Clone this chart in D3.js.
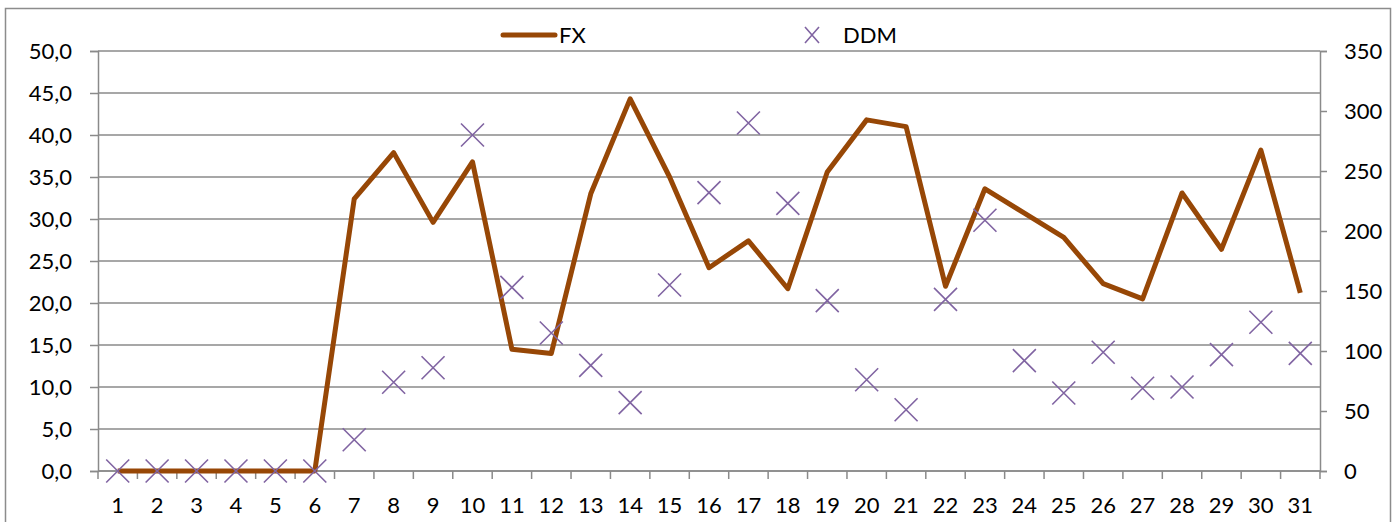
<!DOCTYPE html>
<html>
<head>
<meta charset="utf-8">
<script src="https://cdn.jsdelivr.net/npm/d3@7"></script>
<style>
  body { margin: 0; background: #fff; }
  text { font-family: Lato, "Open Sans", sans-serif; fill: #000; }
</style>
</head>
<body>
<div id="chart"></div>
<script>
const days = d3.range(1, 32).map(String);
const fxValues = [0, 0, 0, 0, 0, 0, 32.4, 37.9, 29.6, 36.8, 14.5, 14.0, 33.0, 44.3, 35.0,
  24.2, 27.4, 21.7, 35.6, 41.8, 41.0, 22.0, 33.6, 30.7, 27.8, 22.3, 20.5, 33.1, 26.4, 38.2, 21.2];
const ddmValues = [0, 0, 0, 0, 0, 0, 26, 74, 86, 280, 153, 115, 88, 57, 155,
  232, 290, 223, 142, 76, 51, 143, 209, 92, 65, 99, 69, 70, 97, 124, 98];
const leftTicks = d3.range(0, 50.1, 5);
const rightTicks = d3.range(0, 351, 50);

const canvasWidth = 1397;
const canvasHeight = 522;
const margins = { top: 51, right: 77, bottom: 51, left: 98 };
const width = canvasWidth - margins.left - margins.right;
const height = canvasHeight - margins.top - margins.bottom;
const fontSize = 22;

const svg = d3.select('#chart')
  .append('svg')
  .attr('width', canvasWidth)
  .attr('height', canvasHeight);

// outer chart border
svg.append('rect')
  .attr('x', 5.5)
  .attr('y', 8.5)
  .attr('width', 1385)
  .attr('height', 530)
  .attr('fill', 'none')
  .attr('stroke', '#8c8c8c')
  .attr('stroke-width', 1.5);

const chart = svg.append('g')
  .attr('transform', `translate(${margins.left}, ${margins.top})`);

const scaleX = d3.scaleBand().domain(days).range([0, width]);
const scaleY = d3.scaleLinear().domain([0, 50]).range([height, 0]);
const scaleY2 = d3.scaleLinear().domain([0, 350]).range([height, 0]);

// gridlines
chart.append('g')
  .selectAll('line')
  .data(leftTicks)
  .enter()
  .append('line')
    .attr('x1', 0)
    .attr('x2', width)
    .attr('y1', d => scaleY(d))
    .attr('y2', d => scaleY(d))
    .attr('stroke', '#8a8a8a')
    .attr('stroke-width', 1.5);

// left axis
const axisLeft = d3.axisLeft(scaleY)
  .tickValues(leftTicks)
  .tickFormat(d => d3.format('.1f')(d).replace('.', ','))
  .tickSize(8)
  .tickPadding(18);
chart.append('g').call(axisLeft);

// right axis
const axisRight = d3.axisRight(scaleY2)
  .tickValues(rightTicks)
  .tickSize(7)
  .tickPadding(17);
chart.append('g')
  .attr('transform', `translate(${width}, 0)`)
  .call(axisRight);

// bottom axis with ticks between categories
const axisX = chart.append('g')
  .attr('transform', `translate(0, ${height})`);
axisX.append('line')
  .attr('x1', 0).attr('x2', width)
  .attr('stroke', '#8a8a8a').attr('stroke-width', 1.5);
axisX.selectAll('.tick-mark')
  .data(d3.range(0, days.length + 1))
  .enter()
  .append('line')
    .attr('x1', i => i * scaleX.step())
    .attr('x2', i => i * scaleX.step())
    .attr('y1', 0)
    .attr('y2', 8)
    .attr('stroke', '#8a8a8a')
    .attr('stroke-width', 1.5);
axisX.selectAll('.lbl')
  .data(days)
  .enter()
  .append('text')
    .attr('x', d => scaleX(d) + scaleX.bandwidth() / 2)
    .attr('y', 42)
    .attr('text-anchor', 'middle')
    .attr('font-size', fontSize)
    .text(d => d);

chart.selectAll('.domain, .tick line')
  .attr('stroke', '#8a8a8a')
  .attr('stroke-width', 1.5);
chart.selectAll('.tick text')
  .attr('font-size', fontSize);

// FX line
const line = d3.line()
  .x((d, i) => scaleX(days[i]) + scaleX.bandwidth() / 2)
  .y(d => scaleY(d));
chart.append('path')
  .datum(fxValues)
  .attr('d', line)
  .attr('fill', 'none')
  .attr('stroke', '#974706')
  .attr('stroke-width', 5)
  .attr('stroke-linejoin', 'round');

// DDM markers
const cross = 'M-11.5,-11.5L11.5,11.5M-11.5,11.5L11.5,-11.5';
chart.append('g')
  .selectAll('path')
  .data(ddmValues)
  .enter()
  .append('path')
    .attr('transform', (d, i) => `translate(${scaleX(days[i]) + scaleX.bandwidth() / 2}, ${scaleY2(d)})`)
    .attr('d', cross)
    .attr('fill', 'none')
    .attr('stroke', '#8064a2')
    .attr('stroke-width', 1.6);

// legend
const legend = svg.append('g');
legend.append('line')
  .attr('x1', 503).attr('x2', 555)
  .attr('y1', 35).attr('y2', 35)
  .attr('stroke', '#974706')
  .attr('stroke-width', 5)
  .attr('stroke-linecap', 'round');
legend.append('text')
  .attr('x', 559).attr('y', 43)
  .attr('font-size', fontSize)
  .text('FX');
legend.append('path')
  .attr('transform', 'translate(812, 35)')
  .attr('d', 'M-7,-8L7,8M-7,8L7,-8')
  .attr('fill', 'none')
  .attr('stroke', '#8064a2')
  .attr('stroke-width', 1.6);
legend.append('text')
  .attr('x', 843).attr('y', 43)
  .attr('font-size', fontSize)
  .text('DDM');
</script>
</body>
</html>
